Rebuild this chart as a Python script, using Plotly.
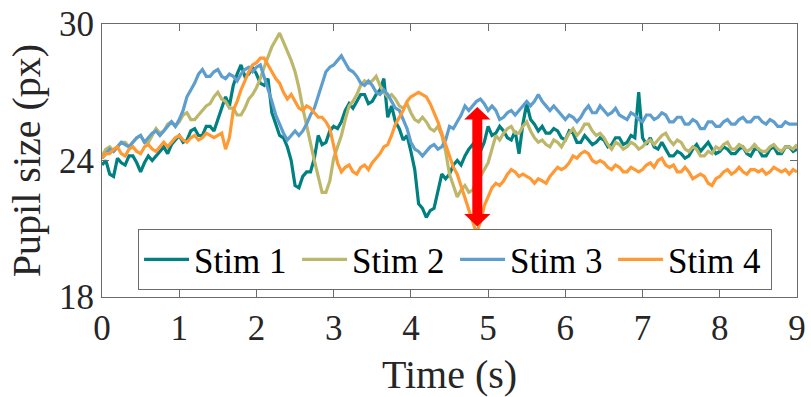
import plotly.graph_objects as go

# ---- data, one sample every 0.05 s ----
time_s = [round(i * 0.05, 2) for i in range(181)]

stim1 = [23.8, 24.0, 23.4, 23.3, 24.1, 23.9, 23.8, 24.2, 24.2, 23.9,
         23.5, 23.9, 24.2, 24.0, 24.2, 24.4, 24.6, 24.3, 24.7, 24.9,
         25.1, 24.8, 24.9, 25.3, 25.4, 25.1, 25.1, 25.5, 25.5, 25.3,
         25.8, 26.3, 26.8, 26.4, 27.3, 27.8, 28.2, 27.7, 27.8, 28.1,
         27.8, 27.4, 27.3, 27.6, 26.1, 25.6, 25.1, 25.0, 24.6, 24.0,
         22.9, 22.8, 23.3, 23.5, 23.5, 24.1, 25.1, 24.7, 24.8, 25.3,
         25.5, 25.4, 25.7, 26.2, 26.5, 26.3, 26.6, 26.9, 26.9, 26.5,
         26.6, 26.9, 27.1, 27.6, 25.9, 26.4, 25.7, 25.4, 24.9, 25.1,
         24.4, 23.6, 22.1, 21.9, 21.5, 21.8, 21.9, 22.6, 23.4, 23.2,
         23.4, 23.8, 24.0, 23.8, 24.2, 24.5, 24.7, 24.4, 24.4, 24.8,
         25.5, 25.1, 25.2, 25.5, 25.3, 25.0, 24.9, 25.3, 24.3, 25.6,
         26.5, 25.8, 25.6, 25.3, 25.5, 25.2, 25.2, 25.4, 25.3, 25.0,
         24.9, 25.3, 25.2, 24.8, 24.8, 25.1, 24.9, 24.7, 24.8, 25.0,
         24.9, 24.6, 24.7, 25.0, 25.0, 24.7, 24.8, 25.1, 25.0, 27.0,
         25.0, 24.7, 25.0, 24.6, 24.5, 24.8, 24.5, 24.2, 24.2, 24.4,
         24.3, 24.1, 24.2, 24.5, 24.7, 24.4, 24.6, 24.8, 24.5, 24.3,
         24.4, 24.6, 24.5, 24.3, 24.3, 24.5, 24.6, 24.3, 24.2, 24.5,
         24.5, 24.2, 24.2, 24.5, 24.6, 24.3, 24.3, 24.6, 24.6, 24.4,
         24.5]

stim2 = [24.2, 24.5, 24.6, 24.4, 24.6, 24.8, 24.8, 24.6, 24.8, 25.0,
         25.1, 24.8, 24.8, 25.1, 25.4, 25.2, 25.3, 25.6, 25.7, 25.5,
         25.7, 26.0, 26.1, 25.8, 25.8, 26.0, 26.2, 26.4, 26.5, 26.8,
         27.0, 26.7, 26.6, 26.3, 26.3, 26.0, 26.0, 26.3, 26.7, 26.9,
         27.2, 27.6, 28.1, 28.6, 29.0, 29.3, 29.6, 29.2, 28.8, 28.4,
         27.9, 27.2, 26.3, 25.5, 24.7, 24.0, 23.3, 22.6, 22.6, 23.1,
         24.1, 24.6, 25.1, 25.8, 26.4, 26.6, 26.9, 27.3, 27.5, 27.4,
         27.5, 27.7, 27.3, 27.0, 26.8, 26.9, 26.7, 26.4, 26.3, 26.5,
         26.1, 25.8, 25.7, 25.9, 25.7, 25.4, 25.3, 25.5, 25.1, 24.4,
         23.4, 22.9, 22.4, 22.7, 22.9, 22.6, 22.7, 23.0, 23.3, 23.6,
         23.9, 24.5, 25.1, 24.9, 25.2, 25.4, 25.5, 25.2, 25.2, 25.5,
         25.7, 25.3, 25.0, 24.8, 24.9, 24.7, 24.6, 24.9, 24.8, 24.6,
         24.9, 25.2, 25.4, 25.1, 25.3, 25.6, 25.6, 25.3, 25.1, 25.2,
         25.0, 24.7, 24.5, 24.8, 24.7, 24.5, 24.6, 24.8, 24.7, 24.5,
         24.6, 24.8, 24.9, 24.7, 24.9, 25.1, 25.2, 24.9, 24.7, 24.9,
         24.8, 24.5, 24.4, 24.6, 24.5, 24.2, 24.2, 24.4, 24.3, 24.6,
         24.5, 24.7, 24.8, 24.5, 24.5, 24.7, 24.6, 24.4, 24.5, 24.7,
         24.5, 24.4, 24.4, 24.6, 24.7, 24.5, 24.4, 24.6, 24.6, 24.5,
         24.7]

stim3 = [24.1, 24.3, 24.5, 24.4, 24.6, 24.8, 24.7, 24.6, 24.8, 25.0,
         25.1, 24.8, 25.0, 25.2, 25.3, 25.1, 25.3, 25.5, 25.7, 25.5,
         25.8, 26.2, 26.8, 27.1, 27.4, 27.8, 28.0, 27.7, 27.7, 27.9,
         28.0, 27.7, 27.6, 27.8, 27.7, 27.5, 27.8, 28.0, 28.1, 27.9,
         28.1, 28.2, 27.7, 27.2, 26.6, 26.0, 25.6, 25.2, 24.9, 25.1,
         25.3, 25.1, 25.3, 25.6, 26.0, 26.3, 26.8, 27.4, 27.9, 28.1,
         28.2, 28.4, 28.6, 28.3, 28.0, 27.9, 27.7, 27.4, 27.3, 27.5,
         27.3, 27.0, 26.9, 27.1, 26.9, 26.6, 26.3, 26.2, 25.8, 25.4,
         24.8, 24.5, 24.4, 24.2, 24.4, 24.6, 24.7, 24.5, 24.6, 24.9,
         25.5, 25.4, 25.7, 26.0, 26.4, 26.2, 26.4, 26.6, 26.7, 26.5,
         26.2, 26.4, 26.2, 25.8, 25.9, 26.1, 26.2, 26.0, 26.2, 26.4,
         26.6, 26.4, 26.6, 26.9, 26.6, 26.4, 26.2, 26.4, 26.2, 26.0,
         25.8, 26.0, 25.9, 25.7, 25.9, 26.2, 26.4, 26.1, 26.1, 26.4,
         26.2, 26.0, 26.1, 26.3, 26.0, 25.9, 25.8, 26.1, 26.0, 25.8,
         25.7, 26.0, 26.0, 25.8, 25.9, 26.1, 26.0, 25.7, 25.7, 25.9,
         25.9, 25.6, 25.6, 25.8, 25.7, 25.4, 25.4, 25.7, 25.7, 25.5,
         25.5, 25.7, 25.8, 25.6, 25.6, 25.8, 25.9, 25.7, 25.7, 25.9,
         25.9, 25.7, 25.6, 25.8, 25.7, 25.5, 25.5, 25.7, 25.6, 25.6,
         25.6]

stim4 = [24.1, 24.3, 24.3, 24.5, 24.6, 24.3, 24.2, 24.5, 24.6, 24.4,
         24.3, 24.6, 24.7, 24.5, 24.4, 24.6, 24.8, 24.6, 24.8, 25.0,
         25.1, 24.9, 24.8, 25.0, 25.1, 24.9, 25.0, 25.2, 25.1, 25.0,
         25.1, 25.2, 24.5, 25.0, 26.2, 26.6, 27.1, 27.5, 27.9, 28.2,
         28.3, 28.5, 28.5, 28.2, 27.9, 27.6, 27.4, 27.0, 26.7, 26.9,
         26.6, 26.3, 26.2, 26.4, 26.3, 26.1, 25.9, 25.9, 25.7, 25.4,
         24.6, 23.9, 23.5, 23.7, 23.8, 23.5, 23.4, 23.7, 23.8, 23.6,
         23.9, 24.1, 24.3, 24.6, 24.7, 25.1, 25.6, 25.9, 26.2, 26.6,
         26.8, 26.9, 27.0, 26.9, 26.8, 26.5, 26.1, 25.7, 25.2, 24.7,
         24.1, 23.7, 23.4, 22.9, 22.4, 21.8, 21.3, 20.8, 21.3, 22.0,
         22.4, 22.8, 23.0, 22.9, 23.1, 23.4, 23.6, 23.5, 23.3, 23.4,
         23.3, 23.2, 23.0, 23.2, 23.1, 23.0, 23.3, 23.5, 23.7, 23.6,
         23.7, 23.9, 24.2, 24.1, 24.3, 24.4, 24.3, 24.0, 23.9, 24.0,
         23.9, 23.7, 23.6, 23.8, 23.7, 23.5, 23.5, 23.7, 23.6, 23.5,
         23.6, 23.8, 23.9, 23.7, 24.0, 24.1, 23.8, 23.7, 23.8, 23.5,
         23.5, 23.7, 23.5, 23.2, 23.3, 23.4, 23.3, 23.0, 22.9, 23.2,
         23.3, 23.5, 23.6, 23.4, 23.5, 23.7, 23.5, 23.4, 23.6, 23.6,
         23.5, 23.6, 23.4, 23.5, 23.7, 23.6, 23.5, 23.6, 23.4, 23.6,
         23.5]

series_names = ["Stim 1", "Stim 2", "Stim 3", "Stim 4"]
series_values = [stim1, stim2, stim3, stim4]
series_colors = ["#008080", "#BDB76B", "#5E9ECF", "#FF9933"]

x_ticks = [0, 1, 2, 3, 4, 5, 6, 7, 8, 9]
y_ticks = [18, 24, 30]

# red double arrow (data coordinates)
arrow_x = 4.86
arrow_top = 26.35
arrow_bottom = 21.1

# ---- style ----
FONT = "Liberation Serif, Times New Roman, serif"
AXIS_COLOR = "#6b6b6b"
HEAD_H = 0.55   # arrow head height in y units
HEAD_W = 0.17   # arrow head half-width in x units

fig = go.Figure()
for name, vals, col in zip(series_names, series_values, series_colors):
    fig.add_trace(go.Scatter(x=time_s, y=vals, mode="lines", name=name,
                             line=dict(color=col, width=3.2)))

shapes = [
    dict(type="line", xref="x", yref="y", x0=arrow_x, x1=arrow_x,
         y0=arrow_bottom + HEAD_H * 0.9, y1=arrow_top - HEAD_H * 0.9,
         line=dict(color="#FF0000", width=10)),
    dict(type="path", xref="x", yref="y", fillcolor="#FF0000", line=dict(width=0),
         path=f"M {arrow_x - HEAD_W} {arrow_top - HEAD_H} L {arrow_x} {arrow_top} "
              f"L {arrow_x + HEAD_W} {arrow_top - HEAD_H} Z"),
    dict(type="path", xref="x", yref="y", fillcolor="#FF0000", line=dict(width=0),
         path=f"M {arrow_x - HEAD_W} {arrow_bottom + HEAD_H} L {arrow_x} {arrow_bottom} "
              f"L {arrow_x + HEAD_W} {arrow_bottom + HEAD_H} Z"),
]

fig.update_layout(
    width=811, height=397,
    margin=dict(l=102, r=5, t=19, b=100),
    paper_bgcolor="white", plot_bgcolor="white",
    font=dict(family=FONT, color="#262626", size=35),
    shapes=shapes,
    showlegend=True,
    legend=dict(orientation="h", x=0.508, xanchor="center", y=0.025, yanchor="bottom",
                bgcolor="white", bordercolor=AXIS_COLOR, borderwidth=1,
                font=dict(family=FONT, size=35, color="black"),
                itemwidth=45, entrywidth=98, entrywidthmode="pixels",
                tracegroupgap=0),
    xaxis=dict(range=[0, 9], tickvals=x_ticks, ticks="inside", ticklen=7,
               tickcolor=AXIS_COLOR, showline=True, linecolor=AXIS_COLOR, linewidth=1,
               mirror="ticks", showgrid=False, zeroline=False,
               ticklabeloverflow="allow",
               tickfont=dict(family=FONT, size=35),
               title=dict(text="Time (s)", font=dict(family=FONT, size=40), standoff=14)),
    yaxis=dict(range=[18, 30], tickvals=y_ticks, ticks="inside", ticklen=7,
               tickcolor=AXIS_COLOR, showline=True, linecolor=AXIS_COLOR, linewidth=1,
               mirror="ticks", showgrid=False, zeroline=False,
               ticklabeloverflow="allow",
               tickfont=dict(family=FONT, size=35),
               title=dict(text="Pupil size (px)", font=dict(family=FONT, size=40), standoff=6)),
)

fig.write_html("out.html")
